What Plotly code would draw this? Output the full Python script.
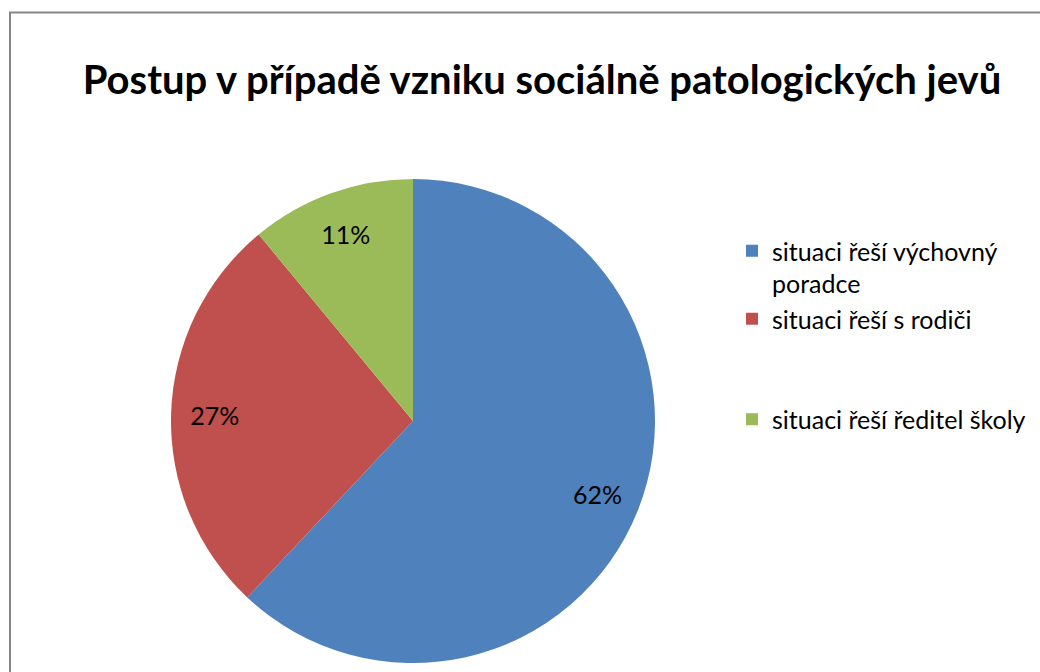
import plotly.graph_objects as go

categories = ["situaci řeší výchovný<br>poradce", "situaci řeší s rodiči<br>\u00a0<br>\u00a0", "situaci řeší ředitel školy"]
values = [62, 27, 11]
colors = ["#4F81BD", "#C0504D", "#9BBB59"]
title_text = "Postup v případě vzniku sociálně patologických jevů"

W, H = 1040, 672
pie_domain = dict(x=[171/W, 655/W], y=[1-663/H, 1-179/H])

fig = go.Figure()
# the pie itself
fig.add_trace(go.Pie(
    labels=categories,
    values=values,
    marker=dict(colors=colors, line=dict(width=0)),
    sort=False,
    direction="clockwise",
    rotation=0,
    textinfo="none",
    hovertemplate="%{label}: %{percent:.0%}<extra></extra>",
    domain=pie_domain,
))
# transparent ring carrying the percentage labels (places them near the rim, as in the original)
fig.add_trace(go.Pie(
    labels=categories,
    values=values,
    marker=dict(colors=["rgba(0,0,0,0)"] * 3, line=dict(width=0)),
    sort=False,
    direction="clockwise",
    rotation=0,
    hole=0.64,
    showlegend=False,
    texttemplate="%{percent:.0%}",
    textposition="inside",
    insidetextorientation="horizontal",
    textfont=dict(family="Lato", size=25, color="black"),
    hoverinfo="skip",
    domain=pie_domain,
))

fig.update_layout(
    width=W, height=H,
    margin=dict(l=0, r=0, t=0, b=0),
    paper_bgcolor="white",
    title=dict(text=title_text, x=542/W, xanchor="center", y=1-80/H, yanchor="middle",
               font=dict(family="Lato", size=40, color="black", weight="bold")),
    legend=dict(x=732/W, xanchor="left", y=1-228/H, yanchor="top", valign="top",
                font=dict(family="Lato", size=25, color="black"),
                tracegroupgap=0),
    shapes=[dict(type="rect", xref="paper", yref="paper",
                 x0=10/W, x1=1.2, y0=-0.2, y1=1-12.5/H,
                 line=dict(color="#878787", width=2), fillcolor="rgba(0,0,0,0)")],
)

fig.write_html("out.html", config=dict(displayModeBar=False),
               post_script="document.body.style.margin='0px';document.body.style.overflow='hidden';")
